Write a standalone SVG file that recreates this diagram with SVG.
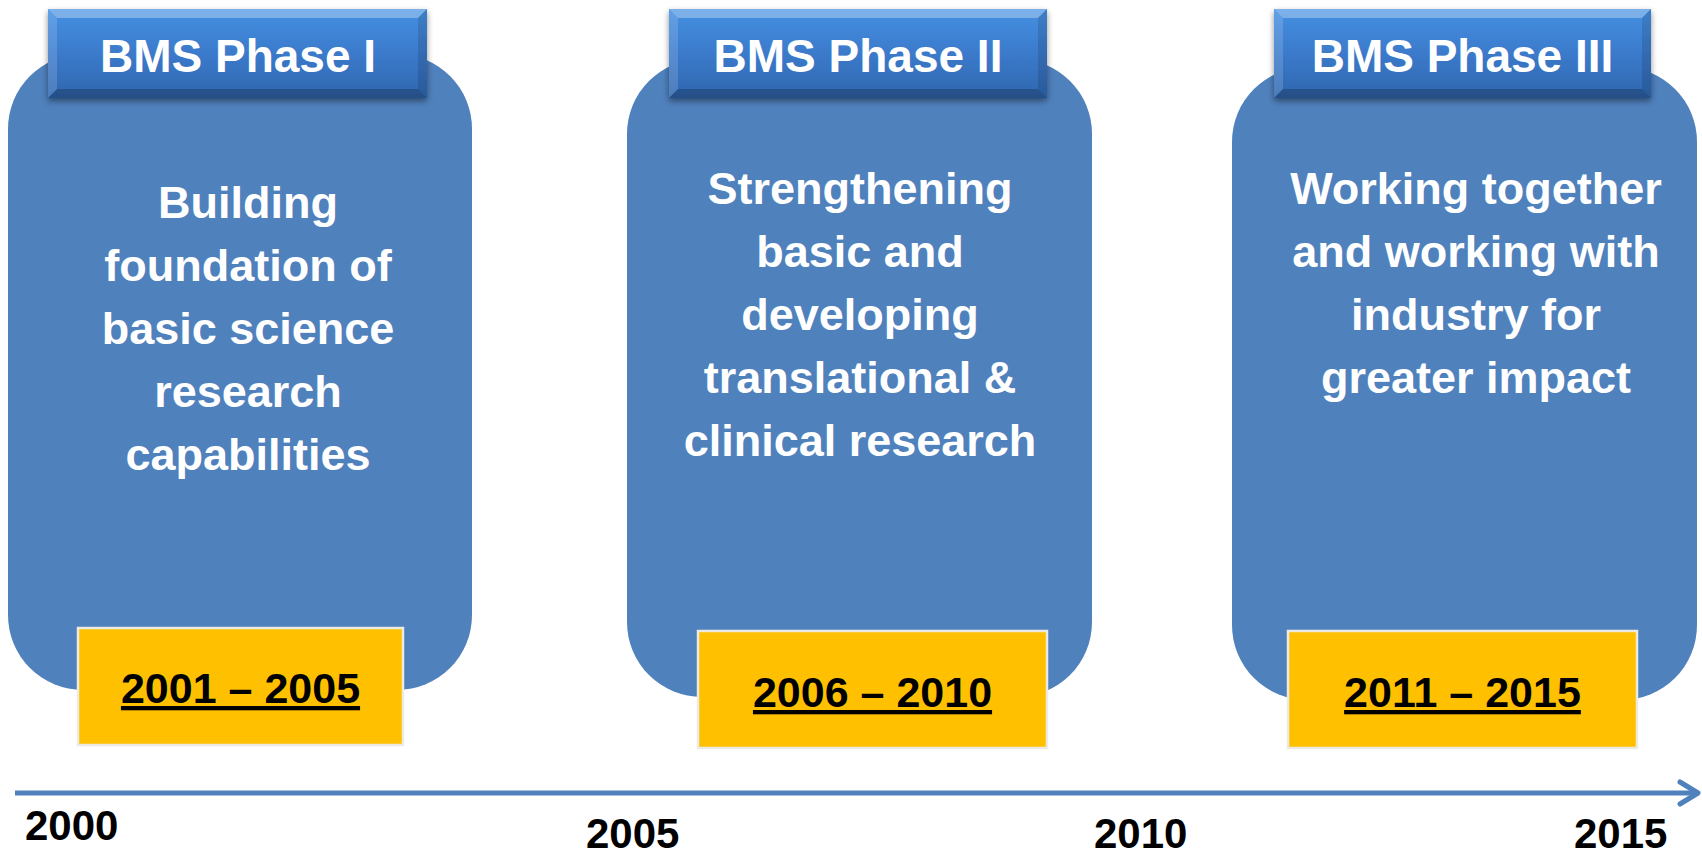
<svg xmlns="http://www.w3.org/2000/svg" width="1702" height="857" viewBox="0 0 1702 857">
<style>
.box{fill:#4F81BD;}
.yel{fill:#FFC000;stroke:#ECEAE2;stroke-width:2.5;}
.hdrtxt{font-family:"Liberation Sans",Arial,sans-serif;font-weight:bold;font-size:46px;fill:#FFFFFF;text-anchor:middle;}
.body{font-family:"Liberation Sans",Arial,sans-serif;font-weight:bold;font-size:45px;fill:#FFFFFF;text-anchor:middle;}
.date{font-family:"Liberation Sans",Arial,sans-serif;font-weight:bold;font-size:43px;fill:#000000;text-anchor:middle;text-decoration:underline;}
.year{font-family:"Liberation Sans",Arial,sans-serif;font-weight:bold;font-size:42px;fill:#000000;}
.hl{fill:#FFFFFF;}
.dk{fill:#000000;}
</style>
<defs>
<linearGradient id="hg" x1="0" y1="0" x2="0" y2="1">
<stop offset="0" stop-color="#4590E2"/>
<stop offset="0.5" stop-color="#3B7ACB"/>
<stop offset="1" stop-color="#2F66AE"/>
</linearGradient>
<filter id="sh" x="-10%" y="-20%" width="120%" height="150%">
<feGaussianBlur in="SourceAlpha" stdDeviation="3"/>
<feOffset dx="0" dy="3" result="b"/>
<feComponentTransfer><feFuncA type="linear" slope="0.45"/></feComponentTransfer>
<feMerge><feMergeNode/><feMergeNode in="SourceGraphic"/></feMerge>
</filter>
<marker id="arr" markerUnits="userSpaceOnUse" markerWidth="30" markerHeight="30" refX="22" refY="15" orient="auto">
<path d="M4,4 L22,15 L4,26" fill="none" stroke="#4F81BD" stroke-width="5" stroke-linecap="round" stroke-linejoin="round"/>
</marker>
</defs>

<g id="phase1">
<rect class="box" x="8" y="54" width="464" height="636" rx="75" ry="75"/>
<g filter="url(#sh)">
<rect x="48" y="9" width="379" height="89" fill="url(#hg)"/>
<polygon class="hl" opacity="0.3" points="48,9 427,9 418,18 57,18"/>
<polygon class="hl" opacity="0.15" points="48,9 57,18 57,89 48,98"/>
<polygon class="dk" opacity="0.12" points="427,9 427,98 418,89 418,18"/>
<polygon class="dk" opacity="0.22" points="48,98 57,89 418,89 427,98"/>
</g>
<text class="hdrtxt" x="238" y="72">BMS Phase I</text>
<text class="body" x="248" y="218">Building</text>
<text class="body" x="248" y="281">foundation of</text>
<text class="body" x="248" y="344">basic science</text>
<text class="body" x="248" y="407">research</text>
<text class="body" x="248" y="470">capabilities</text>
<rect class="yel" x="78" y="628" width="325" height="117"/>
<text class="date" x="240.5" y="703">2001 – 2005</text>
</g>

<g id="phase2">
<rect class="box" x="627" y="59" width="465" height="638" rx="75" ry="75"/>
<g filter="url(#sh)">
<rect x="669" y="9" width="378" height="89" fill="url(#hg)"/>
<polygon class="hl" opacity="0.3" points="669,9 1047,9 1038,18 678,18"/>
<polygon class="hl" opacity="0.15" points="669,9 678,18 678,89 669,98"/>
<polygon class="dk" opacity="0.12" points="1047,9 1047,98 1038,89 1038,18"/>
<polygon class="dk" opacity="0.22" points="669,98 678,89 1038,89 1047,98"/>
</g>
<text class="hdrtxt" x="858" y="72">BMS Phase II</text>
<text class="body" x="860" y="204">Strengthening</text>
<text class="body" x="860" y="267">basic and</text>
<text class="body" x="860" y="330">developing</text>
<text class="body" x="860" y="393">translational &amp;</text>
<text class="body" x="860" y="456">clinical research</text>
<rect class="yel" x="698" y="631" width="349" height="117"/>
<text class="date" x="872.5" y="707">2006 – 2010</text>
</g>

<g id="phase3">
<rect class="box" x="1232" y="67" width="465" height="633" rx="75" ry="75"/>
<g filter="url(#sh)">
<rect x="1274" y="9" width="377" height="89" fill="url(#hg)"/>
<polygon class="hl" opacity="0.3" points="1274,9 1651,9 1642,18 1283,18"/>
<polygon class="hl" opacity="0.15" points="1274,9 1283,18 1283,89 1274,98"/>
<polygon class="dk" opacity="0.12" points="1651,9 1651,98 1642,89 1642,18"/>
<polygon class="dk" opacity="0.22" points="1274,98 1283,89 1642,89 1651,98"/>
</g>
<text class="hdrtxt" x="1462.5" y="72">BMS Phase III</text>
<text class="body" x="1476" y="204">Working together</text>
<text class="body" x="1476" y="267">and working with</text>
<text class="body" x="1476" y="330">industry for</text>
<text class="body" x="1476" y="393">greater impact</text>
<rect class="yel" x="1288" y="631" width="349" height="117"/>
<text class="date" x="1462.5" y="707">2011 – 2015</text>
</g>

<g id="connectors">
<line x1="15" y1="793" x2="1698" y2="793" stroke="#4F81BD" stroke-width="5" marker-end="url(#arr)"/>
</g>

<g id="years">
<text class="year" x="25" y="840">2000</text>
<text class="year" x="586" y="848">2005</text>
<text class="year" x="1094" y="848">2010</text>
<text class="year" x="1574" y="848">2015</text>
</g>
</svg>
